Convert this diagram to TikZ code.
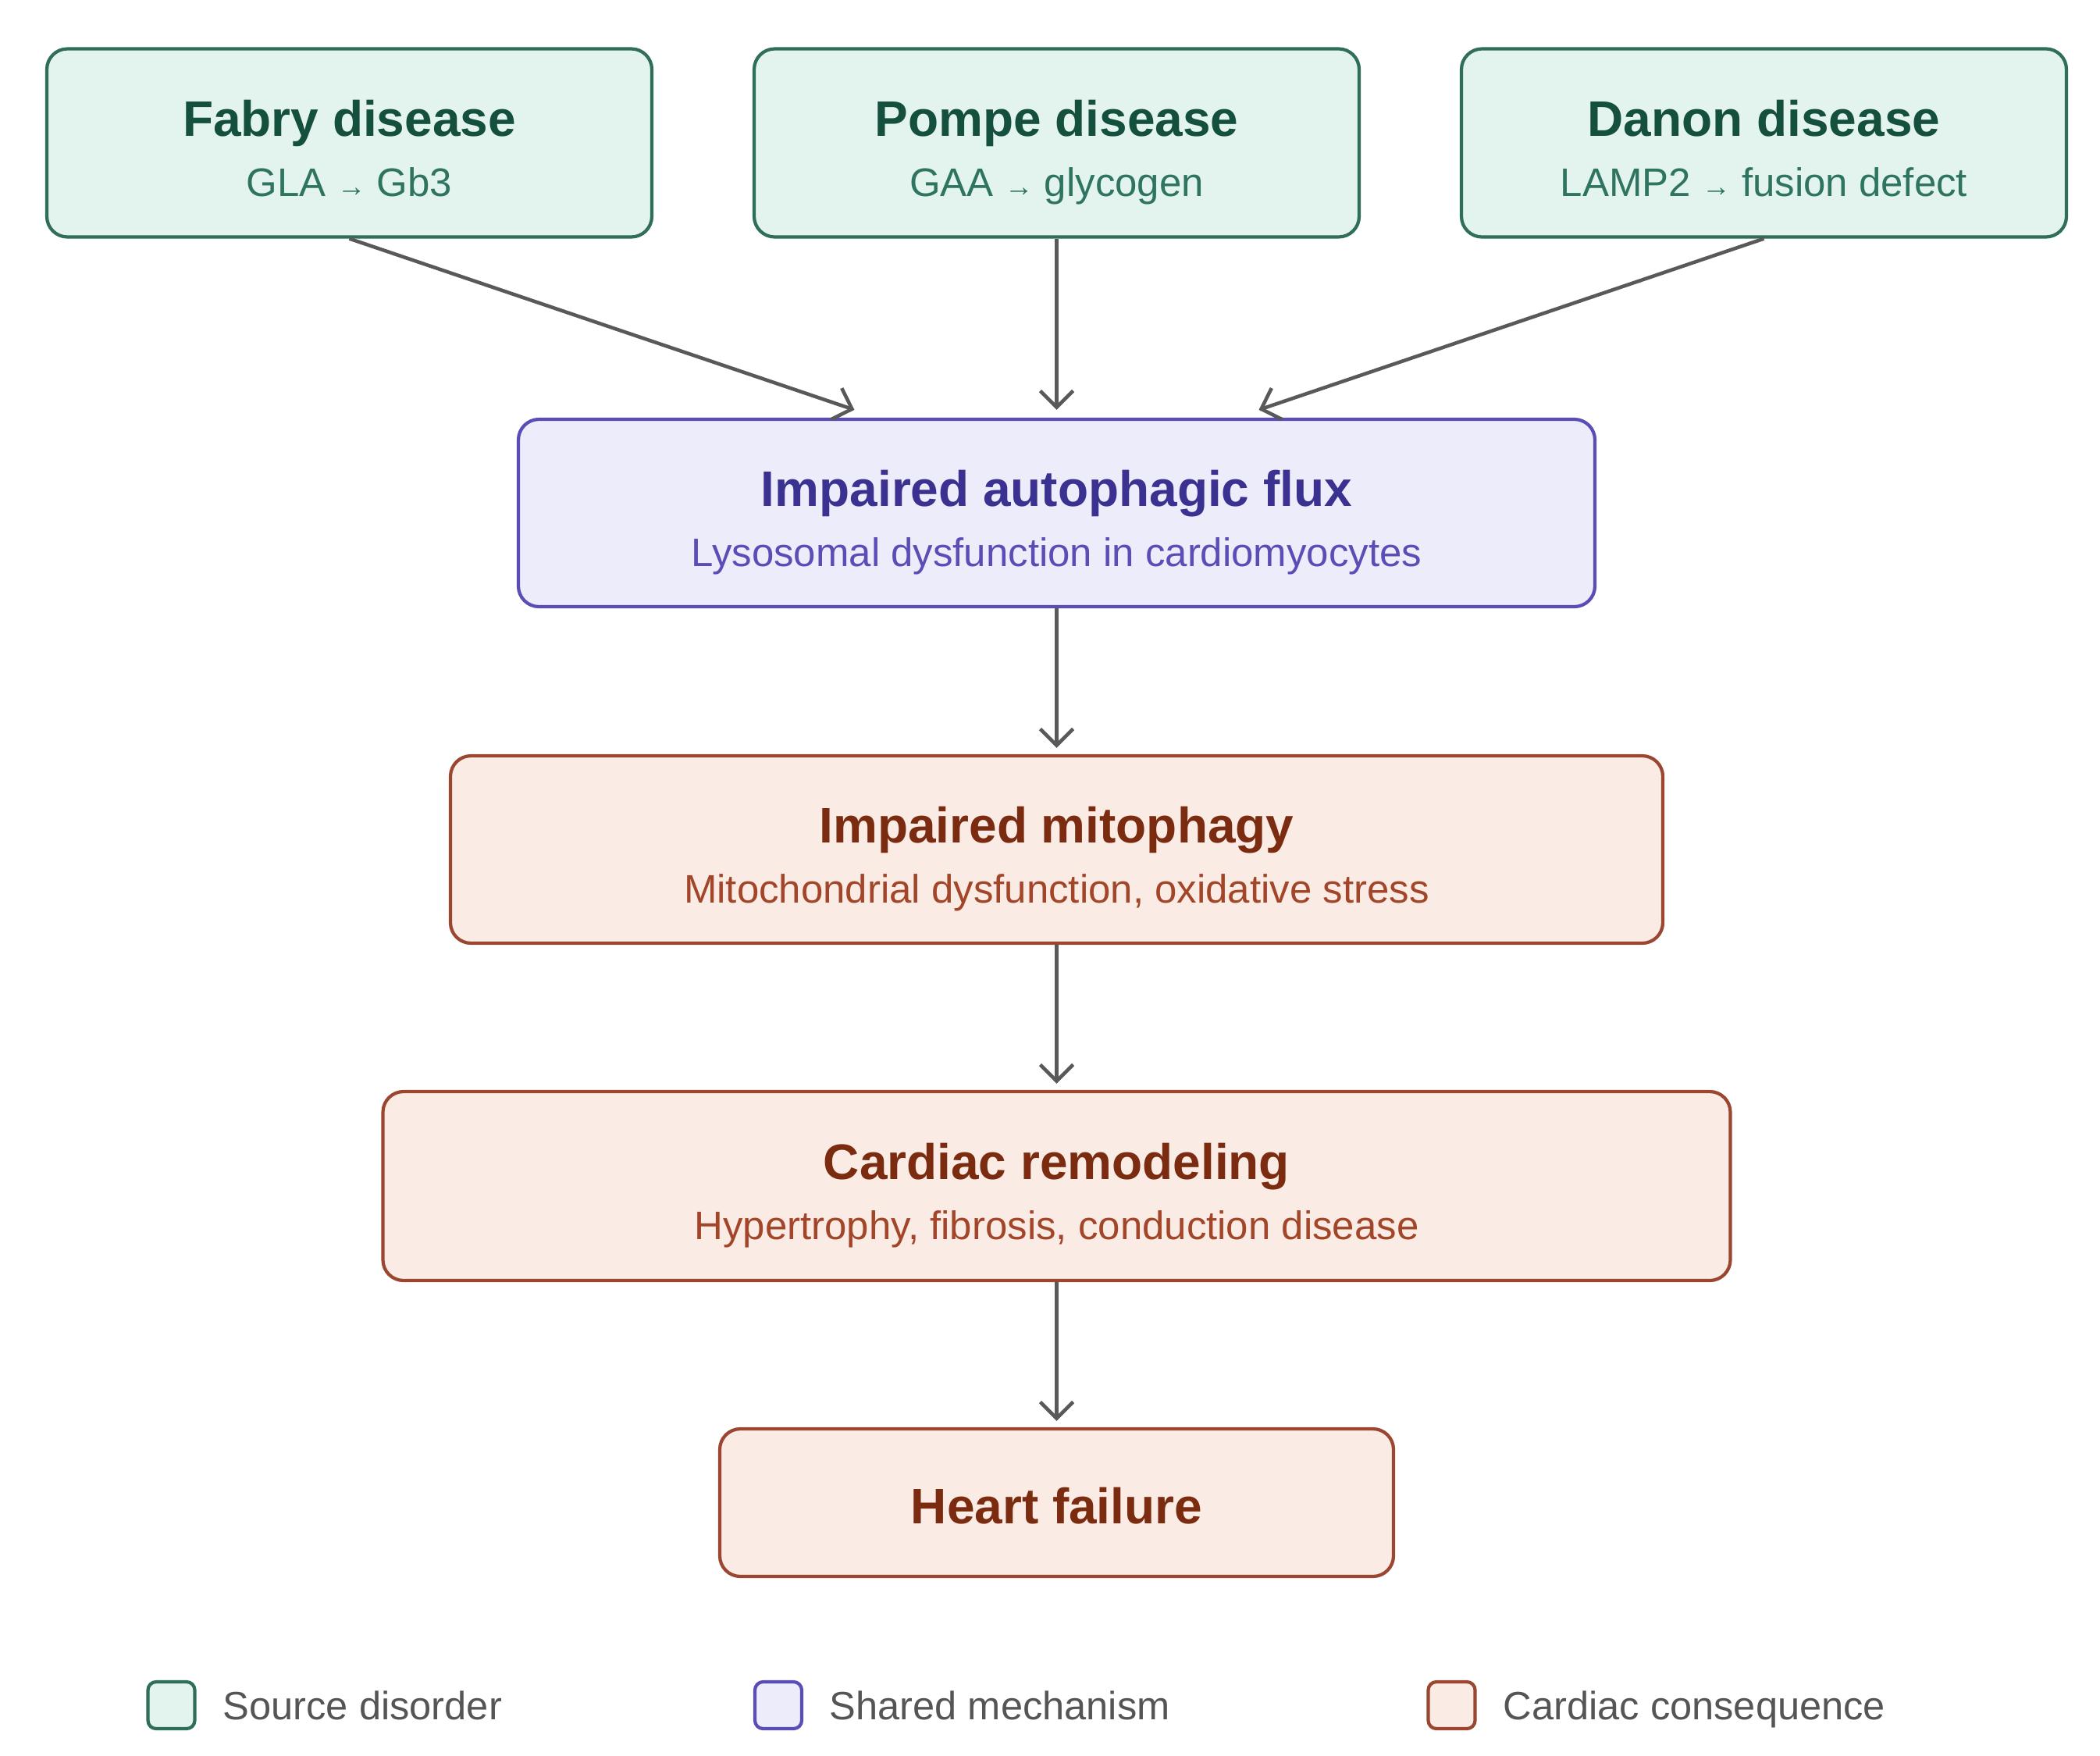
\documentclass[tikz,border=0pt]{standalone}
\usepackage{fontspec}
\setmainfont{Liberation Sans}
\usepackage{xcolor}
\usepackage{tikz}
\usetikzlibrary{arrows.meta}
\definecolor{srcfill}{HTML}{E2F4ED}
\definecolor{srcline}{HTML}{2F6E58}
\definecolor{srctitle}{HTML}{154F3E}
\definecolor{srctext}{HTML}{2E7460}
\definecolor{mechfill}{HTML}{ECECFB}
\definecolor{mechline}{HTML}{5A4DB5}
\definecolor{mechtitle}{HTML}{3B3190}
\definecolor{mechtext}{HTML}{5A4DB5}
\definecolor{cardfill}{HTML}{FAEBE5}
\definecolor{cardline}{HTML}{9A4630}
\definecolor{cardtitle}{HTML}{7B2C10}
\definecolor{cardtext}{HTML}{A24528}
\definecolor{arrowgray}{HTML}{595959}
\definecolor{legendgray}{HTML}{555555}
\newcommand{\smallarrow}{{\fontsize{10.5}{10}\selectfont →}}
\tikzset{
box/.style={
  rectangle,
  rounded corners=7.5pt,
  line width=1.2pt,
  minimum height=2.41cm,
  inner sep=0pt
},
src/.style={box, draw=srcline, fill=srcfill, minimum width=7.75cm},
mech/.style={box, draw=mechline, fill=mechfill},
card/.style={box, draw=cardline, fill=cardfill},
ttl/.style={anchor=base, font=\fontsize{18.2}{20}\selectfont\bfseries},
sub/.style={anchor=base, font=\fontsize{14.5}{16}\selectfont},
key/.style={rectangle, rounded corners=3pt, line width=1.2pt, minimum size=0.6cm, inner sep=0pt},
keytext/.style={anchor=base west, inner sep=0pt, text=legendgray, font=\fontsize{14.4}{16}\selectfont},
flow/.style={draw=arrowgray, line width=1.3pt, -{Straight Barb[length=6pt,width=12pt]}},
}

\begin{document}
\begin{tikzpicture}
\useasboundingbox (0,0) rectangle (26.90,-22.48);
% the source disorders
\node[src] (fabry) at (4.475,-1.83) {};
\node[src] (pompe) at (13.535,-1.83) {};
\node[src] (danon) at (22.595,-1.83) {};
\node[ttl, text=srctitle] (fabry-t) at ([yshift=0.09cm]fabry.center) {Fabry disease};
\node[sub, text=srctext] (fabry-s) at ([yshift=-0.68cm]fabry.center) {GLA \smallarrow{} Gb3};
\node[ttl, text=srctitle] (pompe-t) at ([yshift=0.09cm]pompe.center) {Pompe disease};
\node[sub, text=srctext] (pompe-s) at ([yshift=-0.68cm]pompe.center) {GAA \smallarrow{} glycogen};
\node[ttl, text=srctitle] (danon-t) at ([yshift=0.09cm]danon.center) {Danon disease};
\node[sub, text=srctext] (danon-s) at ([yshift=-0.68cm]danon.center) {LAMP2 \smallarrow{} fusion defect};
% the shared mechanism
\node[mech, minimum width=13.79cm, minimum height=2.40cm] (flux) at (13.535,-6.57) {};
\node[ttl, text=mechtitle] (flux-t) at ([yshift=0.09cm]flux.center) {Impaired autophagic flux};
\node[sub, text=mechtext] (flux-s) at ([yshift=-0.68cm]flux.center) {Lysosomal dysfunction in cardiomyocytes};
% the cardiac consequences
\node[card, minimum width=15.53cm, minimum height=2.40cm] (mito) at (13.535,-10.88) {};
\node[ttl, text=cardtitle] (mito-t) at ([yshift=0.09cm]mito.center) {Impaired mitophagy};
\node[sub, text=cardtext] (mito-s) at ([yshift=-0.68cm]mito.center) {Mitochondrial dysfunction, oxidative stress};
\node[card, minimum width=17.26cm, minimum height=2.42cm] (remod) at (13.535,-15.19) {};
\node[ttl, text=cardtitle] (remod-t) at ([yshift=0.09cm]remod.center) {Cardiac remodeling};
\node[sub, text=cardtext] (remod-s) at ([yshift=-0.68cm]remod.center) {Hypertrophy, fibrosis, conduction disease};
\node[card, minimum width=8.63cm, minimum height=1.89cm] (hf) at (13.535,-19.245) {};
\node[ttl, text=cardtitle] (hf-t) at ([yshift=-0.27cm]hf.center) {Heart failure};
% the arrows
\draw[flow] (fabry.south) -- ([xshift=-2.59cm,yshift=0.1cm]flux.north);
\draw[flow] (pompe.south) -- ([yshift=0.1cm]flux.north);
\draw[flow] (danon.south) -- ([xshift=2.59cm,yshift=0.1cm]flux.north);
\draw[flow] (flux.south) -- ([yshift=0.08cm]mito.north);
\draw[flow] (mito.south) -- ([yshift=0.08cm]remod.north);
\draw[flow] (remod.south) -- ([yshift=0.08cm]hf.north);
% the legend
\node[key, draw=srcline, fill=srcfill] (key1) at (2.195,-21.84) {};
\node[key, draw=mechline, fill=mechfill] (key2) at (9.97,-21.84) {};
\node[key, draw=cardline, fill=cardfill] (key3) at (18.595,-21.84) {};
\node[keytext] (key1-t) at (2.85,-22.02) {Source disorder};
\node[keytext] (key2-t) at (10.62,-22.02) {Shared mechanism};
\node[keytext] (key3-t) at (19.25,-22.02) {Cardiac consequence};
\end{tikzpicture}
\end{document}
